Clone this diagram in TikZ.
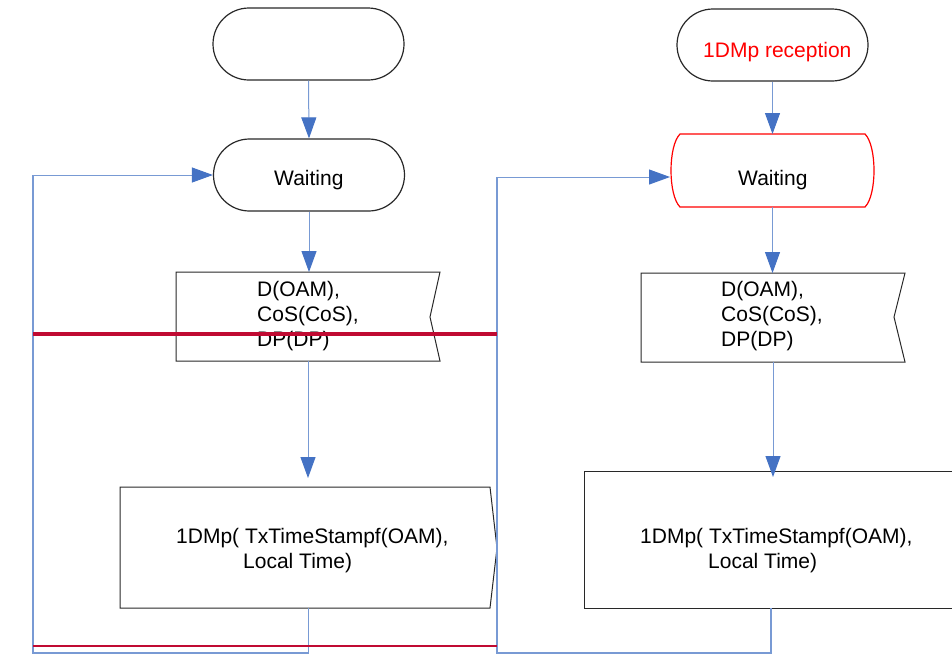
\documentclass[tikz,border=0pt]{standalone}
\usepackage{fontspec}
\setmainfont{Liberation Sans}
\usetikzlibrary{arrows.meta,calc}
\definecolor{linec}{RGB}{120,154,212}
\definecolor{arrowc}{RGB}{68,114,196}
\definecolor{redl}{RGB}{192,10,50}
\definecolor{boxc}{RGB}{40,40,40}
\begin{document}
\begin{tikzpicture}[x=1pt,y=-1pt,
  every node/.style={font=\fontsize{21}{25}\selectfont},
  term/.style={draw=boxc,line width=1.2pt,rounded corners=36pt,minimum width=191pt,minimum height=72pt,inner sep=0pt},
  ghost/.style={inner sep=0pt,outer sep=0pt},
  shapeline/.style={draw=boxc,line width=1pt},
  txt/.style={anchor=base west,inner sep=0pt,text=black},
  conn/.style={draw=linec,line width=1pt,-{Triangle[length=21pt,width=15pt,color=arrowc]}},
  loopline/.style={draw=linec,line width=1.5pt},
  redbar/.style={draw=redl}]
\useasboundingbox (0,0) rectangle (952,657);
\clip (0,0) rectangle (952,657);
\fill[white] (0,0) rectangle (952,657);

% left column shapes
\node[term] (s1) at (308.5,44) {};
\node[term] (w1) at (309,175) {};
\node[ghost,minimum width=264pt,minimum height=89pt] (r1) at (308,316.5) {};
\draw[shapeline] (176,272) -- (440,272) -- (430,317) -- (440,361) -- (176,361) -- cycle;
\node[ghost,minimum width=377pt,minimum height=121pt] (o1) at (308.5,547.5) {};
\draw[shapeline] (120,487) -- (490,487) -- (497,548) -- (490,608) -- (120,608) -- cycle;

% right column shapes
\node[term] (s2) at (772.5,45) {};
\node[ghost,minimum width=205pt,minimum height=73pt] (w2) at (772.5,170.5) {};
\draw[draw=red,line width=1.2pt] (680,134) -- (865,134) .. controls (877,146) and (877,195) .. (865,207) -- (680,207) .. controls (668,195) and (668,146) .. (680,134) -- cycle;
\node[ghost,minimum width=264pt,minimum height=89pt] (r2) at (773,317.5) {};
\draw[shapeline] (641,273) -- (905,273) -- (894,317) -- (905,362) -- (641,362) -- cycle;
\node[ghost,minimum width=374pt,minimum height=137pt] (o2) at (771,539.5) {};
\draw[shapeline] (960,471) -- (584,471) -- (584,608) -- (960,608);

% texts
\node[txt] (t1) at (274,185) {Waiting};
\node[txt] (t2) at (257,296) {D(OAM),};
\node[txt] (t3) at (257,321) {CoS(CoS),};
\node[txt] (t4) at (257,346) {DP(DP)};
\node[txt] (t5) at (176,543) {1DMp( TxTimeStampf(OAM),};
\node[txt] (t6) at (243,568) {Local Time)};
\node[txt,text=red] (t7) at (703,57) {1DMp reception};
\node[txt] (t8) at (738,185) {Waiting};
\node[txt] (t9) at (721,296) {D(OAM),};
\node[txt] (t10) at (721,321) {CoS(CoS),};
\node[txt] (t11) at (721,346) {DP(DP)};
\node[txt] (t12) at (640,543) {1DMp( TxTimeStampf(OAM),};
\node[txt] (t13) at (708,568) {Local Time)};

% connectors left
\draw[conn] (s1.south) -- (w1.north);
\draw[conn] (w1.south) -- (w1.south |- r1.north);
\draw[conn] (r1.south) -- ([yshift=9pt]r1.south |- o1.north);
\coordinate (lb) at (33,653);
\draw[loopline] (o1.south) |- (lb) -- (lb |- w1.west);
\draw[conn] (lb |- w1.west) -- (w1.west);

% connectors right
\draw[conn] (s2.south) -- (w2.north);
\draw[conn] (w2.south) -- (w2.south |- r2.north);
\draw[conn] (r2.south) -- ([yshift=-6pt]r2.south |- o2.north);
\coordinate (rb) at (497,653);
\coordinate (rw) at (670,177);
\draw[loopline] (o2.south) |- (rb) -- (rb |- rw);
\draw[conn] (rb |- rw) -- (rw);

% red bars
\coordinate (ra) at (33,334);
\coordinate (rc) at (497,334);
\coordinate (rd) at (33,646);
\coordinate (re) at (497,646);
\draw[redbar,line width=3.5pt] (ra) -- (rc);
\draw[redbar,line width=2.2pt] (rd) -- (re);
\end{tikzpicture}
\end{document}
